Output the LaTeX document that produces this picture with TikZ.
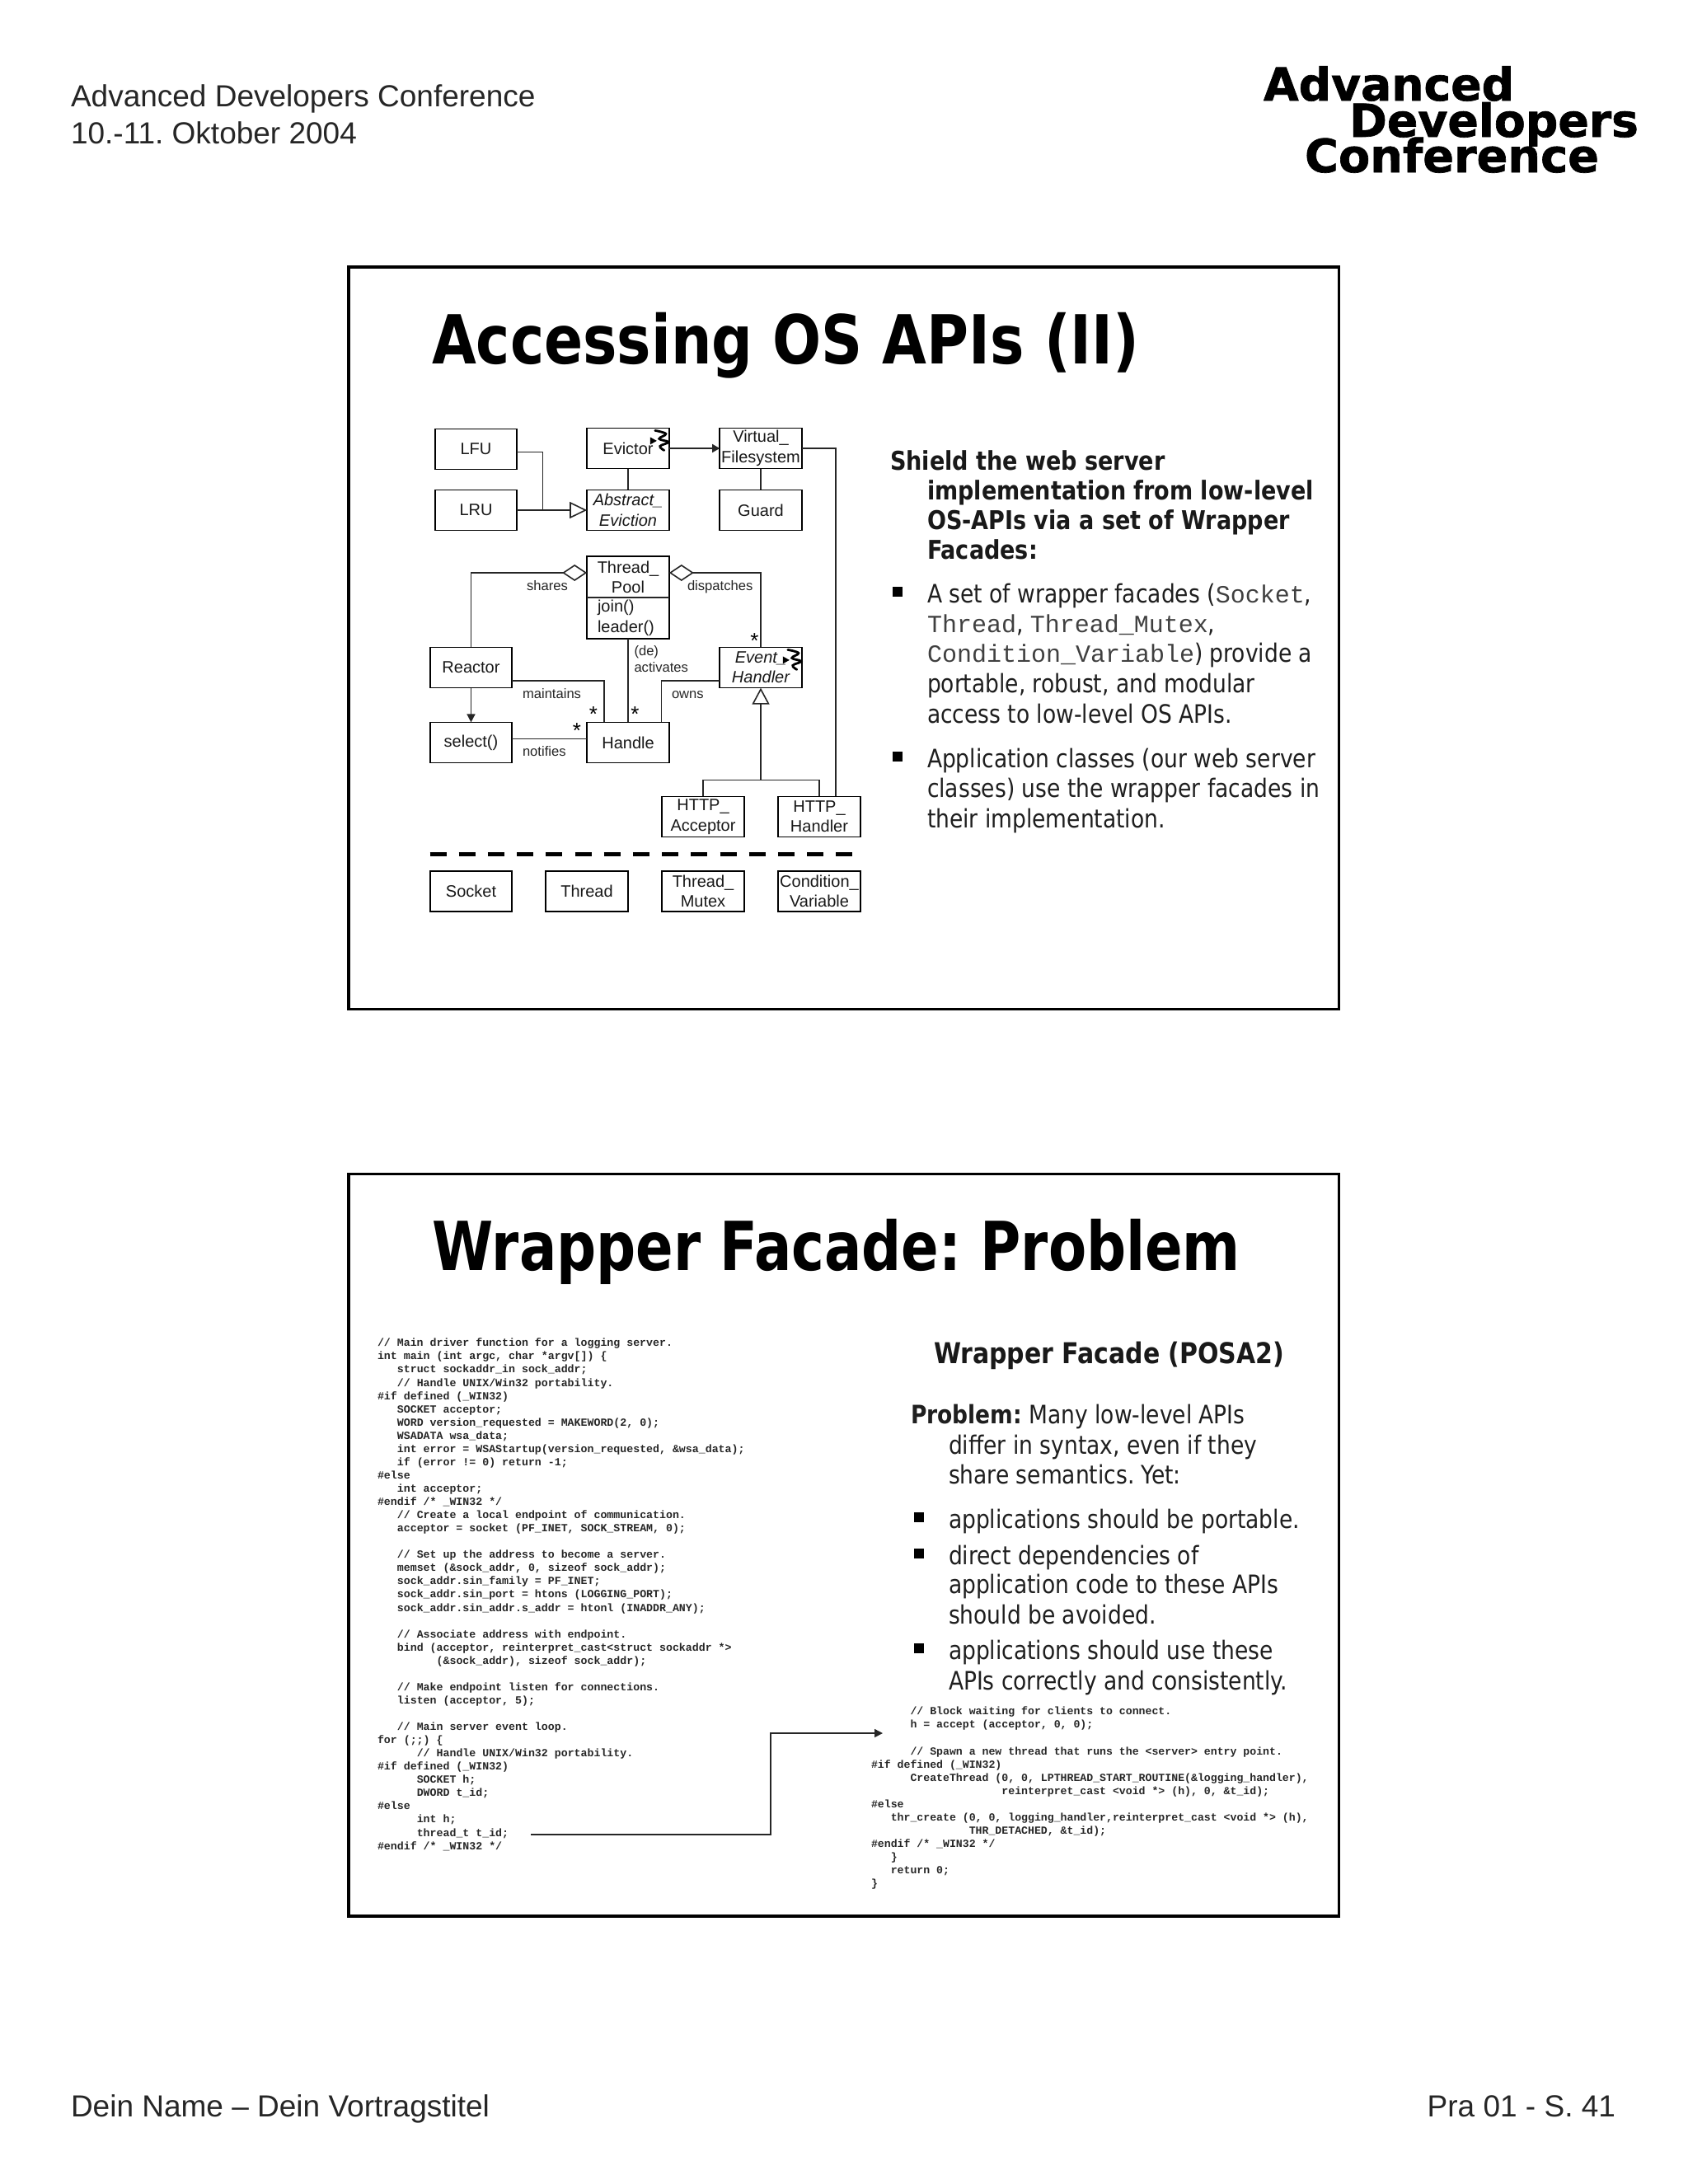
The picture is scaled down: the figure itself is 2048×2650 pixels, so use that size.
\documentclass[tikz,border=0pt]{standalone}
\usepackage{fontspec}
\usetikzlibrary{arrows.meta}
\setmainfont{Liberation Sans}
\newfontfamily\tah[FakeStretch=0.957]{DejaVu Sans Condensed}
\newfontfamily\logof[FakeBold=1.2]{DejaVu Sans}
\newfontfamily\cmono{Liberation Mono}
\AtBeginDocument{\frenchspacing}
\newlength\cw
\newcommand\ind[1]{\hspace*{#1\cw}}
\newcommand\mon[1]{{\cmono\fontsize{15}{18}\selectfont\color{black!75}#1}}
\newcommand\sq[1]{%
  \begin{scope}[shift={(#1.north east)}]
    \draw[line width=1.4pt,black,line cap=round] plot[smooth,tension=0.7] coordinates {(-17,3) (-4,7) (-12,13) (-1,17) (-11,22) (-6,27)};
    \fill[black] (-23,11) -- (-15,15.5) -- (-23,20) -- cycle;
  \end{scope}}
\tikzset{
  x=0.5pt,y=-0.5pt,
  every node/.style={inner sep=0pt,outer sep=0pt},
  box/.style={draw=black,line width=0.85pt,minimum width=49.8pt,minimum height=24.6pt,align=center,font=\fontsize{10}{12.2}\selectfont,text=black!90},
  lbl/.style={font=\fontsize{8.3}{11}\selectfont,anchor=base west,text=black!85},
  star/.style={font=\fontsize{13}{13}\selectfont,anchor=base,text=black},
  link/.style={draw=black!85,line width=0.8pt},
  frame/.style={draw=black,line width=1.75pt,minimum width=600.8pt,minimum height=450.2pt,anchor=north west},
  head/.style={font=\fontsize{18.5}{22}\selectfont,anchor=base west,text=black!85},
  title/.style={font=\tah\bfseries\fontsize{41}{45}\selectfont,anchor=base west,text=black},
  bhead/.style={font=\tah\bfseries\fontsize{15.7}{18}\selectfont,anchor=base west,text=black!90},
  body/.style={font=\tah\fontsize{15.4}{18}\selectfont,anchor=base west,text=black!88},
  bul/.style={fill=black,minimum width=6pt,minimum height=6pt},
  code/.style={font=\cmono\bfseries\fontsize{6.63}{8.03}\selectfont,align=left,anchor=north west,text=black!85},
  code2/.style={font=\cmono\bfseries\fontsize{6.6}{8.04}\selectfont,align=left,anchor=north west,text=black!85},
}
\begin{document}
\begin{tikzpicture}
\useasboundingbox (0,0) rectangle (2048,2650);
\fill[white] (0,0) rectangle (2048,2650);
% header & footer
\node[head] (h1) at (86,129) {Advanced Developers Conference};
\node[head] (h2) at (86,174) {10.-11. Oktober 2004};
\node[head] (f1) at (86,2568) {Dein Name – Dein Vortragstitel};
\node[head,anchor=base east] (f2) at (1960,2568) {Pra 01 - S. 41};
% logo
\node[anchor=base west,font=\logof\bfseries\fontsize{28}{28}\selectfont] (l1) at (1533,122) {\resizebox{152pt}{!}{Advanced}};
\node[anchor=base west,font=\logof\bfseries\fontsize{28}{28}\selectfont] (l2) at (1637,166) {\resizebox{175.5pt}{!}{Developers}};
\node[anchor=base west,font=\logof\bfseries\fontsize{28}{28}\selectfont] (l3) at (1583,209) {\resizebox{178.5pt}{!}{Conference}};
% frames
\node[frame] (fr1) at (423,324) {};
\node[frame] (fr2) at (423,1424.5) {};
% slide 1
\node[title] (t1) at (524,441) {\scalebox{0.985}[1]{Accessing OS APIs (II)}};
\node[box] (lfu) at (577.5,545) {LFU};
\node[box] (lru) at (577.5,619) {LRU};
\node[box] (evictor) at (762,544) {Evictor};
\node[box,font=\fontsize{10}{12.2}\selectfont\itshape] (abs) at (762,619) {Abstract\_\\Eviction};
\node[box] (vfs) at (923,544) {Virtual\_\\Filesystem};
\node[box] (guard) at (923,619) {Guard};
\node[box,minimum height=50pt] (pool) at (762,724.7) {};
\node[align=center,font=\fontsize{10}{12.2}\selectfont,text=black!90] (poolname) at (762,700.5) {Thread\_\\Pool};
\node[align=left,anchor=west,font=\fontsize{10}{12.2}\selectfont,text=black!90] (poolops) at (725,750) {join()\\leader()};
\draw[link] (pool.west |- 0,725) coordinate (pl) -- (pool.east |- 0,725) coordinate (pr);
\node[box] (reactor) at (571.5,810) {Reactor};
\node[box] (select) at (571.5,901) {select()};
\node[box] (handle) at (762,901) {Handle};
\node[box,font=\fontsize{10}{12.2}\selectfont\itshape] (event) at (923,810) {Event\_\\Handler};
\node[box] (acc) at (853,991) {HTTP\_\\Acceptor};
\node[box] (hnd) at (994,991) {HTTP\_\\Handler};
\node[box] (sock) at (571.5,1081.5) {Socket};
\node[box] (thr) at (712,1081.5) {Thread};
\node[box] (mtx) at (853,1081.5) {Thread\_\\Mutex};
\node[box] (cond) at (994,1081.5) {Condition\_\\Variable};
\sq{evictor}
\sq{event}
% connectors
\coordinate (a1) at (658.5,548.6);
\coordinate (a2) at (658.5,619);
\draw[link] (lfu.east |- a1) -- (a1) -- (a2);
\draw[link,-{Triangle[open,fill=white,length=10.5pt,width=10pt]}] (lru.east) -- (abs.west);
\draw[link] (evictor.south) -- (abs.north);
\draw[link,-{Triangle[length=4.5pt,width=5pt]}] (evictor.east) -- (vfs.west);
\draw[link] (vfs.south) -- (guard.north);
\coordinate (a3) at (1014,544);
\draw[link] (vfs.east) -- (a3) -- (a3 |- hnd.north);
\coordinate (a4) at (571.5,695);
\draw[link,{Diamond[open,fill=white,length=15pt,width=10pt]}-] (pool.west |- a4) -- (a4) -- (reactor.north);
\coordinate (a5) at (923,695);
\draw[link,{Diamond[open,fill=white,length=15pt,width=10pt]}-] (pool.east |- a5) -- (a5) -- (event.north);
\draw[link,-{Triangle[length=5pt,width=5pt]}] (reactor.south) -- (select.north);
\coordinate (a6) at (733,826);
\draw[link] (reactor.east |- a6) -- (a6) -- (a6 |- handle.north);
\draw[link] (pool.south) -- (handle.north);
\coordinate (a7) at (802.5,826);
\draw[link] (event.west |- a7) -- (a7) -- (a7 |- handle.north);
\coordinate (a8) at (0,896.5);
\draw[link] (select.east |- a8) -- (handle.west |- a8);
\coordinate (a9) at (923,946.5);
\draw[link,{Triangle[open,fill=white,length=10pt,width=10.5pt]}-] (event.south) -- (a9);
\draw[link] (acc.north) -- (acc.north |- a9) -- (hnd.north |- a9) -- (hnd.north);
\coordinate (d1) at (521.5,1036.5);
\coordinate (d2) at (1036,1036.5);
\draw[black,line width=2.4pt,dash pattern=on 10pt off 7.6pt] (d1) -- (d2);
% labels
\node[lbl] (ls) at (639,716) {shares};
\node[lbl] (ld) at (834,716) {dispatches};
\node[lbl] (lda) at (769.5,795) {(de)};
\node[lbl] (lac) at (769.5,815) {activates};
\node[lbl] (lm) at (634,847) {maintains};
\node[lbl] (ln) at (634,917) {notifies};
\node[lbl] (lo) at (815,847) {owns};
\node[star] (s1) at (720,875) {*};
\node[star] (s2) at (770.5,875) {*};
\node[star] (s3) at (700,895) {*};
\node[star] (s4) at (915.5,786) {*};
% slide 1 text
\node[bhead] (a01) at (1080,570) {Shield the web server};
\node[bhead] (a02) at (1125,606) {implementation from low-level};
\node[bhead] (a03) at (1125,642) {OS-APIs via a set of Wrapper};
\node[bhead] (a04) at (1125,678) {Facades:};
\node[bul] (b1) at (1089,718) {};
\node[body] (a05) at (1125,731) {A set of wrapper facades (\mon{Socket},};
\node[body] (a06) at (1125,767) {\mon{Thread}, \mon{Thread\_Mutex},};
\node[body] (a07) at (1125,803) {\mon{Condition\_Variable}) provide a};
\node[body] (a08) at (1125,840) {portable, robust, and modular};
\node[body] (a09) at (1125,877) {access to low-level OS APIs.};
\node[bul] (b2) at (1089,918) {};
\node[body] (a10) at (1125,931) {Application classes (our web server};
\node[body] (a11) at (1125,967) {classes) use the wrapper facades in};
\node[body] (a12) at (1125,1004) {their implementation.};
% slide 2
\node[title] (t2) at (524,1541) {\scalebox{0.952}[1]{Wrapper Facade: Problem}};
\node[bhead,font=\tah\bfseries\fontsize{17.4}{20}\selectfont] (c01) at (1133,1654.5) {Wrapper Facade (POSA2)};
\node[body] (c02) at (1105,1727) {\textbf{Problem:} Many low-level APIs};
\node[body] (c03) at (1151,1764) {differ in syntax, even if they};
\node[body] (c04) at (1151,1800) {share semantics. Yet:};
\node[bul] (b3) at (1115,1841) {};
\node[body] (c05) at (1151,1854) {applications should be portable.};
\node[bul] (b4) at (1115,1885) {};
\node[body] (c06) at (1151,1898) {direct dependencies of};
\node[body] (c07) at (1151,1933) {application code to these APIs};
\node[body] (c08) at (1151,1970) {should be avoided.};
\node[bul] (b5) at (1115,2000) {};
\node[body] (c09) at (1151,2013) {applications should use these};
\node[body] (c10) at (1151,2050) {APIs correctly and consistently.};
% code
\setlength\cw{3.98pt}
\node[code] (code1) at (458,1624) {%
// Main driver function for a logging server.\\
int main (int argc, char *argv[]) \{\\
\ind{3}struct sockaddr\_in sock\_addr;\\
\ind{3}// Handle UNIX/Win32 portability.\\
\#if defined (\_WIN32)\\
\ind{3}SOCKET acceptor;\\
\ind{3}WORD version\_requested = MAKEWORD(2, 0);\\
\ind{3}WSADATA wsa\_data;\\
\ind{3}int error = WSAStartup(version\_requested, \&wsa\_data);\\
\ind{3}if (error != 0) return -1;\\
\#else\\
\ind{3}int acceptor;\\
\#endif /* \_WIN32 */\\
\ind{3}// Create a local endpoint of communication.\\
\ind{3}acceptor = socket (PF\_INET, SOCK\_STREAM, 0);\\
\mbox{}\\
\ind{3}// Set up the address to become a server.\\
\ind{3}memset (\&sock\_addr, 0, sizeof sock\_addr);\\
\ind{3}sock\_addr.sin\_family = PF\_INET;\\
\ind{3}sock\_addr.sin\_port = htons (LOGGING\_PORT);\\
\ind{3}sock\_addr.sin\_addr.s\_addr = htonl (INADDR\_ANY);\\
\mbox{}\\
\ind{3}// Associate address with endpoint.\\
\ind{3}bind (acceptor, reinterpret\_cast<struct sockaddr *>\\
\ind{9}(\&sock\_addr), sizeof sock\_addr);\\
\mbox{}\\
\ind{3}// Make endpoint listen for connections.\\
\ind{3}listen (acceptor, 5);\\
\mbox{}\\
\ind{3}// Main server event loop.\\
for (;;) \{\\
\ind{6}// Handle UNIX/Win32 portability.\\
\#if defined (\_WIN32)\\
\ind{6}SOCKET h;\\
\ind{6}DWORD t\_id;\\
\#else\\
\ind{6}int h;\\
\ind{6}thread\_t t\_id;\\
\#endif /* \_WIN32 */};
\setlength\cw{3.96pt}
\node[code2] (code2) at (1057,2071) {%
\ind{6}// Block waiting for clients to connect.\\
\ind{6}h = accept (acceptor, 0, 0);\\
\mbox{}\\
\ind{6}// Spawn a new thread that runs the <server> entry point.\\
\#if defined (\_WIN32)\\
\ind{6}CreateThread (0, 0, LPTHREAD\_START\_ROUTINE(\&logging\_handler),\\
\ind{20}reinterpret\_cast <void *> (h), 0, \&t\_id);\\
\#else\\
\ind{3}thr\_create (0, 0, logging\_handler,reinterpret\_cast <void *> (h),\\
\ind{15}THR\_DETACHED, \&t\_id);\\
\#endif /* \_WIN32 */\\
\ind{3}\}\\
\ind{3}return 0;\\
\}};
\coordinate (e1) at (644,2226);
\coordinate (e2) at (935,2226);
\coordinate (e3) at (935,2103);
\coordinate (e4) at (1071,2103);
\draw[link,-{Triangle[length=5pt,width=5pt]}] (e1) -- (e2) -- (e3) -- (e4);
\end{tikzpicture}
\end{document}
